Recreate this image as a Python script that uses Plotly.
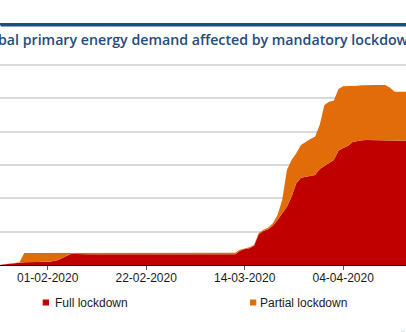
import pandas as pd
import plotly.graph_objects as go

dates = pd.date_range("2020-01-22", "2020-04-18", freq="D")

full_lockdown = [
    0.1, 0.3, 0.5, 0.6, 0.7, 0.8, 0.8, 0.8, 0.9, 0.9,          # Jan 22-31
    1.0, 1.1, 1.4, 2.0, 2.7, 3.4, 3.3, 3.2, 3.2, 3.2,          # Feb 1-10
    3.2, 3.2, 3.2, 3.2, 3.2, 3.2, 3.2, 3.2, 3.2, 3.2,          # Feb 11-20
    3.2, 3.2, 3.2, 3.2, 3.2, 3.2, 3.2, 3.2, 3.2,               # Feb 21-29
    3.2, 3.2, 3.2, 3.2, 3.2, 3.2, 3.2, 3.2, 3.2, 3.2,          # Mar 1-10
    3.2, 3.2, 4.3, 4.8, 5.0, 5.8, 9.2, 10.2, 10.7, 11.8,       # Mar 11-20
    13.5, 15.5, 17.5, 20.5, 24.5, 26.2, 26.4, 26.7, 27.0, 28.8, 29.8,  # Mar 21-31
    30.6, 31.5, 34.3, 35.1, 35.7, 36.9, 37.2, 37.4, 37.5, 37.5,  # Apr 1-10
    37.5, 37.4, 37.3, 37.3, 37.3, 37.3, 37.3, 37.3,            # Apr 11-18
]

partial_lockdown = [
    0.0, 0.0, 0.0, 0.0, 0.1, 2.8, 2.8, 2.8, 2.7, 2.7,          # Jan 22-31
    2.6, 2.5, 2.2, 1.6, 1.0, 0.3, 0.4, 0.5, 0.5, 0.5,          # Feb 1-10
    0.5, 0.5, 0.5, 0.5, 0.5, 0.5, 0.5, 0.5, 0.5, 0.5,          # Feb 11-20
    0.5, 0.5, 0.5, 0.5, 0.5, 0.5, 0.5, 0.5, 0.5,               # Feb 21-29
    0.5, 0.5, 0.5, 0.5, 0.5, 0.5, 0.5, 0.5, 0.5, 0.5,          # Mar 1-10
    0.5, 0.5, 0.3, 0.2, 0.3, 0.3, 0.4, 0.4, 0.5, 0.7,          # Mar 11-20
    1.5, 4.0, 11.0, 11.0, 9.0, 9.8, 10.6, 11.1, 11.5, 13.2, 18.2,  # Mar 21-31
    18.4, 17.8, 18.5, 18.5, 17.9, 16.8, 16.6, 16.5, 16.5, 16.5,  # Apr 1-10
    16.5, 16.6, 16.7, 15.9, 14.7, 14.7, 14.7, 14.7,            # Apr 11-18
]

series_names = ["Full lockdown", "Partial lockdown"]
colors = ["#C00000", "#E36C0A"]
y_ticks = [0, 10, 20, 30, 40, 50, 60]
title_text = "Share of global primary energy demand affected by mandatory lockdowns"
source_text = "IEA 2020. All rights reserved."

W, H = 406, 332
TOP, BOTTOM = 24, 265          # plot area pixel rows (top edge = title rule)
PH = BOTTOM - TOP
GRID_TOP_PX = 65               # pixel row of the 60 % gridline
Y_MAX = 60 * PH / (BOTTOM - GRID_TOP_PX)
X_RANGE = ["2020-01-21 19:55", "2020-04-17 09:36"]
RULE_COLOR = "#1F4E79"


def py(pix):
    return (BOTTOM - pix) / PH


fig = go.Figure()
for name, vals, col in zip(series_names, [full_lockdown, partial_lockdown], colors):
    fig.add_trace(go.Scatter(
        x=dates, y=vals, name=name, mode="lines", stackgroup="one",
        line=dict(width=0, color=col), fillcolor=col, showlegend=False,
        hovertemplate="%{x|%d-%m-%Y}: %{y:.1f}%<extra>" + name + "</extra>",
    ))

fig.update_layout(
    width=W, height=H,
    margin=dict(l=0, r=0, t=TOP, b=H - BOTTOM, pad=0),
    paper_bgcolor="white", plot_bgcolor="white",
    showlegend=False,
    font=dict(family="Liberation Sans, Arial, sans-serif", size=12, color="#1a1a1a"),
)

fig.update_xaxes(
    type="date", range=X_RANGE,
    tick0="2020-02-01", dtick=21 * 86400000, tickformat="%d-%m-%Y",
    showgrid=False, zeroline=False,
    showline=True, linecolor="#000000", linewidth=1,
    ticks="outside", ticklen=4, tickcolor="#595959", tickwidth=1,
    ticklabelstandoff=-2,
    tickfont=dict(size=12, color="#1a1a1a"),
)
fig.update_yaxes(
    range=[0, Y_MAX], tickvals=y_ticks, showticklabels=False,
    showgrid=True, gridcolor="#d9d9d9", gridwidth=1.6,
    zeroline=False, showline=False, ticks="",
)

# dark-blue rule above the title (top edge of the plotting frame)
fig.add_shape(type="rect", xref="paper", yref="paper",
              x0=0, x1=1, y0=py(25), y1=py(23),
              fillcolor=RULE_COLOR, line=dict(width=0), layer="above")
fig.add_annotation(text=" ", xref="paper", yref="paper",
                   x=0, y=py(23), xanchor="left", yanchor="top",
                   width=W, height=2, bgcolor=RULE_COLOR, borderpad=0,
                   showarrow=False, font=dict(size=1))

# title (cropped at left like the reference)
fig.add_annotation(text=title_text, xref="paper", yref="paper",
                   x=-85 / W, y=py(39), xanchor="left", yanchor="middle",
                   showarrow=False,
                   font=dict(family="Open Sans, sans-serif", size=14.2,
                             color="#254b7d", weight=600))

# legend
leg_sq_x = [42.7, 250.0]
leg_tx_x = [52.7, 258.3]
for name, col, sx, tx in zip(series_names, colors, leg_sq_x, leg_tx_x):
    fig.add_shape(type="rect", xref="paper", yref="paper",
                  x0=sx / W, x1=(sx + 6.3) / W, y0=py(299.5), y1=py(305.5),
                  fillcolor=col, line=dict(width=0))
    fig.add_annotation(text=name, xref="paper", yref="paper",
                       x=tx / W, y=py(302.7), xanchor="left", yanchor="middle",
                       showarrow=False, font=dict(size=12, color="#1a1a1a"))

# source note (cut at the bottom edge)
fig.add_annotation(text=source_text, xref="paper", yref="paper",
                   x=352 / W, y=py(328), xanchor="left", yanchor="top",
                   showarrow=False, font=dict(size=9, color="#c0c0c0"))

fig.write_html("out.html")
